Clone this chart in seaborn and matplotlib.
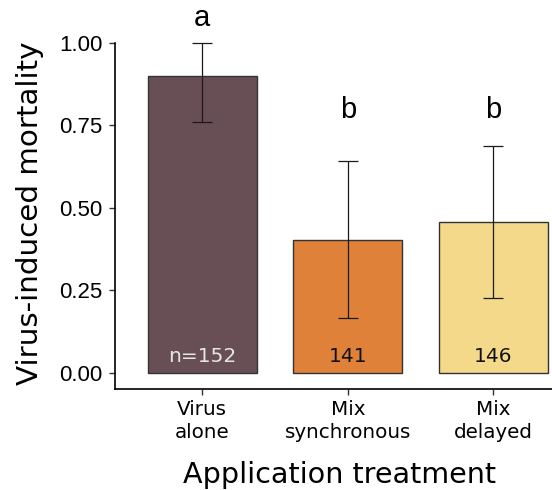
import matplotlib
matplotlib.use("Agg")
import matplotlib.pyplot as plt
import seaborn as sns
import pandas as pd

# Treatment groups and their mortality estimates
treatments = ["Virus\nalone", "Mix\nsynchronous", "Mix\ndelayed"]
mortality = [0.899, 0.402, 0.458]
ci_low = [0.760, 0.166, 0.225]
ci_high = [1.000, 0.641, 0.687]
sample_sizes = ["n=152", "141", "146"]
group_letters = ["a", "b", "b"]
letter_y = [1.075, 0.797, 0.797]
bar_colors = ["#684F55", "#DF8139", "#F5D98B"]
n_label_colors = ["#E6E6E6", "#111111", "#111111"]
y_ticks = [0.00, 0.25, 0.50, 0.75, 1.00]

df = pd.DataFrame({"treatment": treatments, "mortality": mortality})

sns.set_style("white")
plt.rcParams["text.color"] = "black"
plt.rcParams["axes.labelcolor"] = "black"
plt.rcParams["xtick.color"] = "black"
plt.rcParams["ytick.color"] = "black"

fig = plt.figure(figsize=(5.52, 4.9), dpi=100)
ax = fig.add_axes([115 / 552, 101 / 490, 465.6 / 552, 389 / 490])

sns.barplot(data=df, x="treatment", y="mortality", hue="treatment",
            palette=bar_colors, saturation=1, errorbar=None, width=0.75,
            legend=False, edgecolor="#333333", linewidth=1.0, ax=ax)

# Confidence intervals
xs = list(range(len(treatments)))
yerr = [[m - lo for m, lo in zip(mortality, ci_low)],
        [hi - m for m, hi in zip(mortality, ci_high)]]
ax.errorbar(xs, mortality, yerr=yerr, fmt="none", ecolor="#1a1a1a",
            elinewidth=0.9, capsize=7.5, capthick=0.9, zorder=5)

# Sample sizes inside the bars
for x, label, c in zip(xs, sample_sizes, n_label_colors):
    ax.text(x, 0.048, label, ha="center", va="center", color=c,
            fontsize=14.5, family="DejaVu Sans", zorder=6)

# Significance letters
for x, letter, ly in zip(xs, group_letters, letter_y):
    ax.text(x, ly, letter, ha="center", va="center", color="black",
            fontsize=21, family="Liberation Sans", clip_on=False)

ax.set_xlim(-0.6, 2.6)
ax.set_ylim(-0.05, 1.13)
ax.set_yticks(y_ticks)
ax.set_yticklabels([f"{t:.2f}" for t in y_ticks], family="Liberation Sans",
                   fontsize=16, color="black")
ax.set_xticks(xs)
ax.set_xticklabels(treatments, family="DejaVu Sans", fontsize=14.3,
                   linespacing=1.25, color="black")

for side in ["top", "right"]:
    ax.spines[side].set_visible(False)
for side in ["left", "bottom"]:
    ax.spines[side].set_color("black")
    ax.spines[side].set_linewidth(1.2)
ax.spines["left"].set_bounds(-0.05, 1.0)

ax.tick_params(axis="both", which="both", direction="out", length=4,
               width=1.0, color="#333333", left=True, bottom=True)
ax.tick_params(axis="y", pad=5)
ax.tick_params(axis="x", pad=4)

ax.set_xlabel("Application treatment", family="DejaVu Sans", fontsize=20.6,
              color="black")
ax.set_ylabel("Virus-induced mortality", family="DejaVu Sans", fontsize=21.2,
              color="black")
ax.xaxis.set_label_coords(0.483, -0.185)
ax.yaxis.set_label_coords(-0.153, 0.453)

fig.savefig("out.png", dpi=100)
